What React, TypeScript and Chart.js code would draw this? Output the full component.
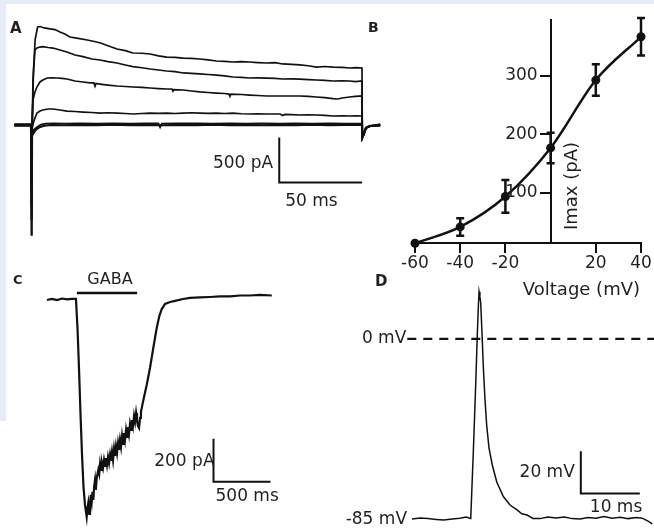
import React, { useEffect, useRef } from 'react';
import { Chart, registerables } from 'chart.js';

Chart.register(...registerables);

const FONT = '"DejaVu Sans", "Liberation Sans", sans-serif';
const INK = '#111111';
const TEXT = '#231f20';

// ---------- Panel A: whole-cell currents (t in ms, I in pA) ----------
const A_TRACE_1 = [[-10, 0], [0, 0], [0.2, -1220], [0.6, -300], [1, 200], [1.5, 600], [2.5, 950], [4, 1089], [5.5, 1094], [8, 1078], [11.5, 1067], [14.5, 1060], [17.5, 1033], [20.5, 1011], [23.5, 978], [28.5, 962], [34, 944], [39, 925], [42, 911], [46.5, 880], [52, 844], [57, 826], [61.5, 800], [67, 797], [72, 789], [77, 768], [82, 755], [87, 752], [92, 744], [97, 741], [102, 733], [107, 724], [112, 711], [117, 707], [122, 700], [127, 703], [132, 700], [137, 694], [142.5, 689], [147.5, 692], [152, 678], [157.5, 674], [162.5, 667], [167.5, 658], [172.5, 644], [177.5, 650], [182.5, 644], [188, 640], [192.5, 633], [196, 637], [200, 633], [200.2, -144], [201.2, -100], [202.4, -33], [205, -11], [211, 0]];
const A_TRACE_2 = [[-10, 5], [0, 5], [0.2, -1050], [0.6, -200], [1.2, 500], [2.4, 833], [3.6, 855], [5.4, 866], [7.2, 870], [10.3, 861], [13.3, 855], [17.5, 833], [21.7, 811], [26.6, 778], [31.4, 760], [36.8, 733], [41.7, 722], [46.5, 705], [52, 689], [57, 667], [61.6, 648], [67, 636], [72, 622], [77, 611], [82, 600], [87, 592], [92, 578], [97, 574], [102, 567], [107, 561], [112, 555], [117, 546], [122, 533], [127, 530], [132, 522], [137, 524], [142.5, 520], [147.5, 517], [152, 511], [157.5, 513], [162.5, 509], [167.5, 505], [172.5, 500], [177.5, 496], [182.5, 489], [188, 491], [192.5, 489], [196, 483], [200, 489], [200.2, -144], [201.2, -100], [202.4, -33], [205, -11], [211, 5]];
const A_TRACE_3 = [[-10, -5], [0, -5], [0.2, -900], [0.6, 56], [1.2, 278], [2.4, 367], [3.6, 422], [5.4, 478], [7.2, 500], [9.7, 522], [12.7, 525], [15.7, 522], [18.7, 517], [21.7, 511], [26.6, 489], [31.4, 478], [35.6, 467], [38, 467], [38.7, 430], [39.3, 461], [41.7, 455], [46.5, 444], [52, 433], [57, 428], [61.6, 422], [67, 417], [72, 411], [77, 405], [82, 400], [85.2, 400], [85.8, 375], [86.4, 394], [92, 389], [97, 378], [102, 367], [107, 361], [112, 355], [117, 350], [119.6, 344], [120.2, 318], [120.8, 344], [127.4, 339], [132, 333], [137, 328], [142.5, 322], [147.5, 322], [152, 322], [157.5, 322], [162.5, 322], [167.5, 317], [172.5, 311], [177.5, 305], [182.5, 294], [185.4, 289], [188, 300], [192.5, 311], [196, 317], [200, 322], [200.2, -144], [201.2, -100], [202.4, -33], [205, -11], [211, -5]];
const A_TRACE_4 = [[-10, 10], [0, 10], [0.2, -700], [0.6, -33], [1.2, 11], [2.4, 78], [3.6, 133], [5.4, 155], [7.2, 167], [10.3, 178], [13.3, 178], [17.5, 167], [21.7, 155], [26.6, 150], [31.4, 144], [36.8, 139], [41.7, 133], [46.5, 136], [52, 133], [57, 128], [61.6, 122], [67, 128], [72, 133], [77, 130], [82, 133], [87, 128], [92, 133], [97, 136], [102, 133], [107, 130], [112, 133], [117, 128], [122, 133], [127, 125], [132, 122], [137, 125], [142.5, 122], [150.4, 122], [152.2, 105], [153.4, 117], [157.5, 115], [162.5, 111], [167.5, 113], [172.7, 111], [177.5, 106], [182.4, 100], [188, 103], [192.7, 100], [196, 102], [200, 100], [200.2, -144], [201.2, -100], [202.4, -33], [205, -11], [211, 10]];
const A_TRACE_5 = [[-10, -10], [0, -10], [0.2, -500], [0.6, -80], [1.5, -60], [2.5, -40], [4, -20], [6, 5], [9, 15], [14, 18], [20, 15], [30, 17], [40, 14], [50, 18], [60, 15], [70, 17], [77, 18], [78, -25], [79, 15], [88, 18], [100, 17], [110, 14], [120, 18], [130, 15], [140, 17], [150, 14], [160, 18], [170, 15], [180, 17], [190, 14], [200, 15], [200.2, -144], [201.2, -100], [202.4, -33], [205, -11], [211, -10]];
const A_TRACE_6 = [[-10, 0], [0, 0], [0.2, -350], [0.6, -120], [1.5, -90], [3, -50], [5, -25], [8, -8], [12, 0], [20, -3], [30, 2], [40, -2], [50, 3], [60, -2], [70, 2], [80, -3], [90, 2], [100, -2], [110, 3], [120, -2], [130, 2], [140, -3], [150, 2], [160, -2], [170, 3], [180, -2], [190, 2], [200, 0], [200.2, -120], [201.2, -90], [202.4, -30], [205, -10], [211, 0]];
const A_BAR_T = [150, 200]; // 50 ms
const A_BAR_I = [-140, -640]; // 500 pA

// ---------- Panel B: I–V relation ----------
const B_VOLT = [-60, -40, -20, 0, 20, 40];
const B_IMAX = [14, 42, 94, 177, 293, 367];
const B_SEM = [0, 15, 28, 26, 27, 32];
const B_X_TICKS = [-60, -40, -20, 20, 40];
const B_Y_TICKS = [100, 200, 300];

// ---------- Panel C: GABA-evoked current (t in ms, I in pA) ----------
const C_TRACE = [[0, -5], [44, 0], [88, -5], [132, 2], [175, -2], [219, 0], [254, 0], [268, -144], [281, -330], [294, -539], [307, -725], [320, -874], [333, -958], [348, -1014], [355, -972], [362, -949], [370, -1000], [377, -967], [384, -911], [392, -944], [399, -897], [406, -935], [414, -870], [421, -842], [428, -888], [436, -832], [443, -814], [450, -795], [458, -814], [465, -767], [474, -795], [482, -763], [491, -786], [500, -749], [509, -777], [517, -740], [526, -772], [535, -735], [544, -763], [553, -725], [561, -753], [570, -711], [579, -749], [588, -697], [596, -730], [605, -684], [614, -716], [623, -670], [631, -702], [640, -656], [649, -688], [658, -637], [667, -674], [675, -623], [684, -656], [693, -609], [702, -642], [710, -595], [719, -628], [728, -581], [737, -609], [745, -563], [754, -591], [763, -544], [772, -572], [781, -530], [789, -563], [798, -591], [807, -600], [816, -553], [824, -525], [845, -470], [874, -400], [903, -321], [932, -228], [962, -135], [985, -79], [1006, -47], [1035, -23], [1079, -14], [1123, -9], [1193, 0], [1254, 5], [1342, 7], [1430, 9], [1517, 12], [1605, 12], [1693, 16], [1780, 16], [1868, 19], [1971, 16]];
const C_GABA_T = [262, 790];
const C_GABA_LEVEL = 28;
const C_BAR_T = [1460, 1960]; // 500 ms
const C_BAR_I = [-650, -850]; // 200 pA

// ---------- Panel D: action potential (t in ms, V in mV) ----------
const D_TRACE = [[0, -85], [1.4, -84.5], [2.7, -84.8], [4.1, -85.2], [5.4, -85.5], [6.8, -85], [8.1, -84.6], [9.2, -84], [9.7, -84.5], [9.95, -84.7], [10.4, -52.4], [10.8, -20.9], [11.07, 2.7], [11.25, 16], [11.36, 22.3], [11.5, 20], [11.64, 17], [11.86, 2.8], [12.08, -13.1], [12.37, -28.8], [12.66, -41], [13.05, -51.5], [13.6, -59.5], [14.36, -67.5], [15.47, -74.4], [16.6, -78.4], [17.8, -80.7], [18.6, -82.5], [19.5, -83.1], [20.5, -84.7], [21.7, -84.8], [23, -84], [24.4, -84.5], [25.8, -84], [27.1, -84.8], [28.5, -85], [29.8, -84.3], [31.2, -84.6], [32.5, -83.8], [33.9, -84.6], [35.3, -84.2], [36.6, -84.8], [38, -84.3], [39, -84.6], [40, -86], [40.7, -87.3]];
const D_ZERO_T = [-0.8, 41.5];
const D_ZERO_V = 0;
const D_REST_V = -85;
const D_BAR_T = [28.6, 38.6]; // 10 ms
const D_BAR_V = [-53, -73]; // 20 mV

function lineSet(pairs: number[][], width: number, extra: any = {}) {
  return {
    data: pairs.map(([x, y]) => ({ x, y })),
    showLine: true,
    borderColor: INK,
    backgroundColor: INK,
    borderWidth: width,
    pointRadius: 0,
    tension: 0,
    fill: false,
    borderJoinStyle: 'miter',
    borderCapStyle: 'butt',
    ...extra,
  };
}

function barPairs(ts: number[], vs: number[]) {
  return [[ts[0], vs[0]], [ts[0], vs[1]], [ts[1], vs[1]]];
}

function text(ctx: CanvasRenderingContext2D, s: string, x: number, y: number, size: number, align: CanvasTextAlign = 'left', weight = 'normal') {
  ctx.save();
  ctx.font = `${weight} ${size}px ${FONT}`;
  ctx.fillStyle = TEXT;
  ctx.textAlign = align;
  ctx.textBaseline = 'middle';
  ctx.fillText(s, x, y);
  ctx.restore();
}

function baseOptions(xmin: number, xmax: number, ymin: number, ymax: number): any {
  return {
    responsive: false,
    animation: false,
    devicePixelRatio: 1,
    events: [],
    layout: { padding: 0 },
    plugins: { legend: { display: false }, tooltip: { enabled: false } },
    scales: {
      x: { type: 'linear', min: xmin, max: xmax, display: false },
      y: { type: 'linear', min: ymin, max: ymax, display: false },
    },
  };
}

function configA(): any {
  return {
    type: 'scatter',
    data: {
      datasets: [
        lineSet(A_TRACE_1, 1.7),
        lineSet(A_TRACE_2, 1.7),
        lineSet(A_TRACE_3, 1.7),
        lineSet(A_TRACE_4, 1.7),
        lineSet(A_TRACE_5, 1.8),
        lineSet(A_TRACE_6, 2.2),
        lineSet(barPairs(A_BAR_T, A_BAR_I), 2),
      ],
    },
    options: baseOptions(-15.1, 213.9, -1333, 1222),
    plugins: [{
      id: 'annA',
      afterDraw(chart: any) {
        const { ctx } = chart;
        const xs = chart.scales.x, ys = chart.scales.y;
        text(ctx, 'A', 4, 14, 15, 'left', 'bold');
        const bx = xs.getPixelForValue(A_BAR_T[0]);
        text(ctx, '500 pA', bx - 6, ys.getPixelForValue((A_BAR_I[0] + A_BAR_I[1]) / 2) + 3, 17, 'right');
        text(ctx, '50 ms', bx + 6, ys.getPixelForValue(A_BAR_I[1]) + 19, 17, 'left');
      },
    }],
  };
}

function configB(): any {
  const yMin = 14.5, yMax = 395.7;
  const opts = baseOptions(-60, 40, yMin, yMax);
  opts.layout = { padding: { left: 55, right: 13, top: 20, bottom: 67 } };
  opts.scales = {
    x: {
      type: 'linear', min: -60, max: 40, position: { y: yMin },
      border: { display: true, color: INK, width: 2 },
      grid: { display: true, drawOnChartArea: false, drawTicks: true, tickLength: 9, color: INK, lineWidth: 2 },
      ticks: { color: TEXT, font: { family: FONT, size: 17 }, padding: 1 },
      afterBuildTicks: (s: any) => { s.ticks = B_X_TICKS.map((v) => ({ value: v })); },
    },
    y: {
      type: 'linear', min: yMin, max: yMax, position: { x: 0 },
      border: { display: true, color: INK, width: 2 },
      grid: { display: true, drawOnChartArea: false, drawTicks: true, tickLength: 10, color: INK, lineWidth: 2 },
      ticks: { display: false },
      afterBuildTicks: (s: any) => { s.ticks = B_Y_TICKS.map((v) => ({ value: v })); },
    },
  };
  const pts = B_VOLT.map((v, i) => ({ x: v, y: B_IMAX[i] }));
  return {
    type: 'scatter',
    data: {
      datasets: [
        { data: pts, showLine: false, pointRadius: 4.5, pointBackgroundColor: INK, pointBorderColor: INK, pointBorderWidth: 0, clip: false },
        { data: pts, showLine: true, pointRadius: 0, borderColor: INK, borderWidth: 2.5, cubicInterpolationMode: 'monotone', fill: false, clip: false },
      ],
    },
    options: opts,
    plugins: [{
      id: 'annB',
      afterDatasetsDraw(chart: any) {
        const { ctx } = chart;
        const xs = chart.scales.x, ys = chart.scales.y;
        ctx.save();
        ctx.strokeStyle = INK;
        ctx.lineWidth = 2.5;
        B_VOLT.forEach((v, i) => {
          if (!B_SEM[i]) return;
          const x = xs.getPixelForValue(v);
          const y1 = ys.getPixelForValue(B_IMAX[i] - B_SEM[i]);
          const y2 = ys.getPixelForValue(B_IMAX[i] + B_SEM[i]);
          ctx.beginPath();
          ctx.moveTo(x, y1); ctx.lineTo(x, y2);
          ctx.moveTo(x - 4, y1); ctx.lineTo(x + 4, y1);
          ctx.moveTo(x - 4, y2); ctx.lineTo(x + 4, y2);
          ctx.stroke();
        });
        ctx.restore();
      },
      afterDraw(chart: any) {
        const { ctx, chartArea } = chart;
        const xs = chart.scales.x, ys = chart.scales.y;
        const x0 = xs.getPixelForValue(0);
        text(ctx, 'B', 8, 28, 14, 'left', 'bold');
        B_Y_TICKS.forEach((v) => text(ctx, String(v), x0 - 13, ys.getPixelForValue(v), 17, 'right'));
        text(ctx, 'Voltage (mV)', xs.getPixelForValue(40) - 1, chartArea.bottom + 47, 18, 'right');
        ctx.save();
        ctx.translate(x0 + 22, chartArea.bottom - 57);
        ctx.rotate(-Math.PI / 2);
        text(ctx, 'Imax (pA)', 0, 0, 18, 'center');
        ctx.restore();
      },
    }],
  };
}

function configC(): any {
  return {
    type: 'scatter',
    data: {
      datasets: [
        lineSet(C_TRACE, 2.2),
        lineSet([[C_GABA_T[0], C_GABA_LEVEL], [C_GABA_T[1], C_GABA_LEVEL]], 2.5),
        lineSet(barPairs(C_BAR_T, C_BAR_I), 2),
      ],
    },
    options: baseOptions(-342, 2043, -1070, 144),
    plugins: [{
      id: 'annC',
      afterDraw(chart: any) {
        const { ctx } = chart;
        const xs = chart.scales.x, ys = chart.scales.y;
        text(ctx, 'C', 5, 13, 13, 'left', 'bold');
        const gx = (xs.getPixelForValue(C_GABA_T[0]) + xs.getPixelForValue(C_GABA_T[1])) / 2 + 3;
        text(ctx, 'GABA', gx, ys.getPixelForValue(C_GABA_LEVEL) - 13, 16, 'center');
        const bx = xs.getPixelForValue(C_BAR_T[0]);
        text(ctx, '200 pA', bx + 1, ys.getPixelForValue((C_BAR_I[0] + C_BAR_I[1]) / 2) + 1, 17, 'right');
        text(ctx, '500 ms', bx + 2, ys.getPixelForValue(C_BAR_I[1]) + 15, 17, 'left');
      },
    }],
  };
}

function configD(): any {
  return {
    type: 'scatter',
    data: {
      datasets: [
        lineSet(D_TRACE, 1.5),
        lineSet([[D_ZERO_T[0], D_ZERO_V], [D_ZERO_T[1], D_ZERO_V]], 2.2, { borderDash: [9, 7] }),
        lineSet(barPairs(D_BAR_T, D_BAR_V), 2),
      ],
    },
    options: baseOptions(-12.2, 41.0, -89.7, 31.6),
    plugins: [{
      id: 'annD',
      afterDraw(chart: any) {
        const { ctx } = chart;
        const xs = chart.scales.x, ys = chart.scales.y;
        text(ctx, 'D', 35, 10, 15, 'left', 'bold');
        text(ctx, '0 mV', xs.getPixelForValue(D_ZERO_T[0]) - 1, ys.getPixelForValue(D_ZERO_V), 17, 'right');
        text(ctx, '-85 mV', xs.getPixelForValue(D_TRACE[0][0]) - 5, ys.getPixelForValue(D_REST_V) + 1, 17, 'right');
        const bx = xs.getPixelForValue(D_BAR_T[0]);
        text(ctx, '20 mV', bx - 6, ys.getPixelForValue((D_BAR_V[0] + D_BAR_V[1]) / 2), 17, 'right');
        text(ctx, '10 ms', bx + 9, ys.getPixelForValue(D_BAR_V[1]) + 14, 17, 'left');
      },
    }],
  };
}

function Panel(props: { left: number; top: number; width: number; height: number; make: () => any }) {
  const ref = useRef<HTMLCanvasElement>(null);
  useEffect(() => {
    const chart = new Chart(ref.current as HTMLCanvasElement, props.make());
    return () => chart.destroy();
  }, []);
  return (
    <canvas
      ref={ref}
      width={props.width}
      height={props.height}
      style={{ position: 'absolute', left: props.left, top: props.top, width: props.width, height: props.height }}
    />
  );
}

export default function App() {
  return (
    <div style={{ position: 'absolute', left: 0, top: 0, width: 654, height: 529, background: '#ffffff', overflow: 'hidden' }}>
      <div style={{ position: 'absolute', left: 0, top: 0, width: 654, height: 4, background: '#e6ebf5' }} />
      <div style={{ position: 'absolute', left: 0, top: 0, width: 6, height: 421, background: '#e6ebf5' }} />
      <Panel left={6} top={15} width={379} height={230} make={configA} />
      <Panel left={360} top={0} width={294} height={310} make={configB} />
      <Panel left={8} top={268} width={272} height={261} make={configC} />
      <Panel left={340} top={272} width={314} height={257} make={configD} />
    </div>
  );
}
